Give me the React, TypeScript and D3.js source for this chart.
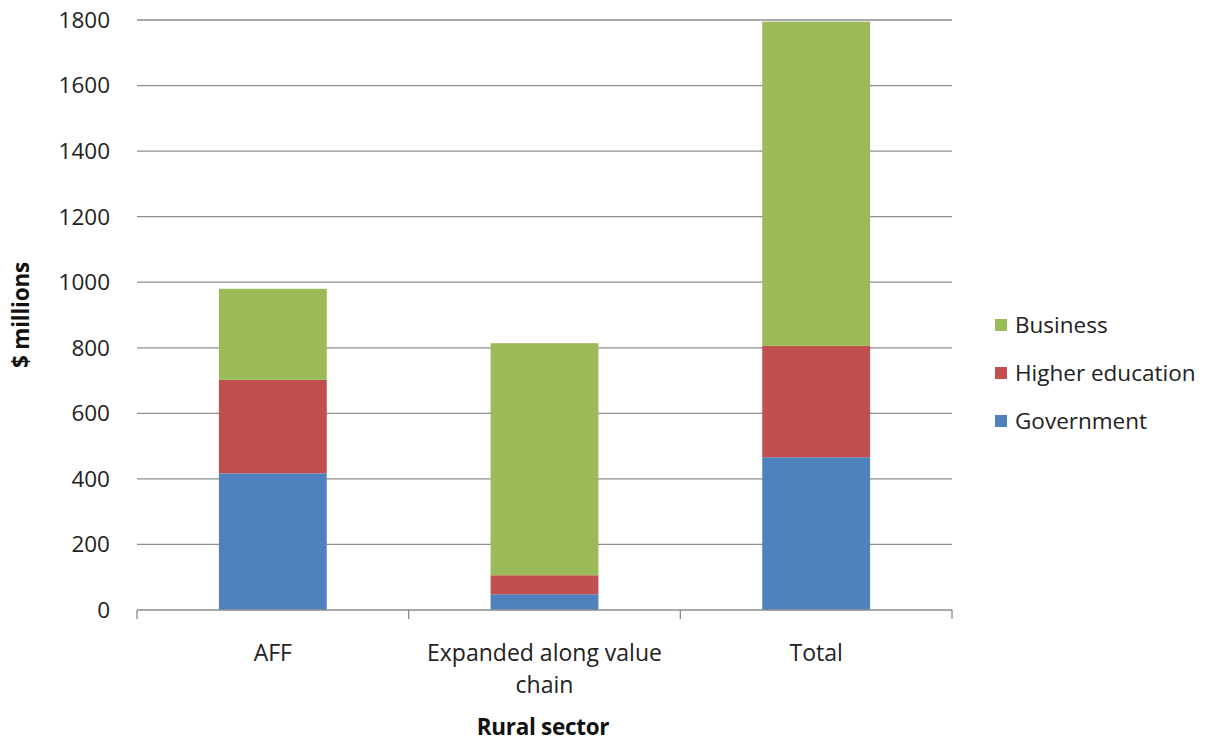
import React from "react";
import * as d3 from "d3";

// Rural R&D expenditure by sector and performer ($ millions)
const categories: string[][] = [["AFF"], ["Expanded along value", "chain"], ["Total"]];
const categoryKeys = ["AFF", "Expanded along value chain", "Total"];
const seriesNames = ["Government", "Higher education", "Business"];
const government = [417, 48, 466];
const higherEducation = [285, 58, 340];
const business = [278, 708, 989];
const yTicks = [0, 200, 400, 600, 800, 1000, 1200, 1400, 1600, 1800];
const seriesColors = ["#4F81BD", "#C0504D", "#9BBB59"];

const W = 1209;
const H = 742;
const plot = { left: 137, right: 952, top: 20, bottom: 610 };
const FONT = "'Open Sans', 'Liberation Sans', sans-serif";

export default function App() {
  const rows = categoryKeys.map((k, i) => ({
    key: k,
    Government: government[i],
    "Higher education": higherEducation[i],
    Business: business[i],
  }));
  const stacked = d3.stack<any>().keys(seriesNames)(rows);

  const x = d3.scaleBand<string>().domain(categoryKeys).range([plot.left, plot.right]).paddingInner(0).paddingOuter(0);
  const y = d3.scaleLinear().domain([0, 1800]).range([plot.bottom, plot.top]);
  const barW = x.bandwidth() * 0.397;

  const boundaries = [plot.left, ...categoryKeys.map((k) => (x(k) as number) + x.bandwidth())];

  const legendItems = [...seriesNames].reverse();

  return (
    <svg width={W} height={H} style={{ position: "absolute", left: 0, top: 0, background: "#fff" }}>
      {/* gridlines */}
      {yTicks.slice(1).map((t) => (
        <line key={t} x1={plot.left} x2={plot.right} y1={y(t)} y2={y(t)} stroke="#8c8c8c" strokeWidth={1.3} />
      ))}
      {/* y tick labels */}
      {yTicks.map((t) => (
        <text key={t} x={110} y={y(t)} dy="0.35em" textAnchor="end" fontFamily={FONT} fontSize={22.5} fill="#222">
          {t}
        </text>
      ))}
      {/* stacked bars */}
      {stacked.map((s, si) => (
        <g key={s.key} fill={seriesColors[si]}>
          {s.map((d, i) => {
            const cx = (x(categoryKeys[i]) as number) + x.bandwidth() / 2;
            return <rect key={i} x={cx - barW / 2} width={barW} y={y(d[1])} height={y(d[0]) - y(d[1])} />;
          })}
        </g>
      ))}
      {/* x axis */}
      <line x1={plot.left} x2={plot.right} y1={plot.bottom} y2={plot.bottom} stroke="#8c8c8c" strokeWidth={1.3} />
      {boundaries.map((b, i) => (
        <line key={i} x1={b} x2={b} y1={plot.bottom} y2={plot.bottom + 9} stroke="#8c8c8c" strokeWidth={1.3} />
      ))}
      {/* category labels */}
      {categories.map((lines, i) => {
        const cx = (x(categoryKeys[i]) as number) + x.bandwidth() / 2;
        return (
          <text key={i} textAnchor="middle" fontFamily={FONT} fontSize={23} fill="#222">
            {lines.map((ln, j) => (
              <tspan key={j} x={cx} y={661 + j * 32}>
                {ln}
              </tspan>
            ))}
          </text>
        );
      })}
      {/* axis titles */}
      <text x={543} y={735} textAnchor="middle" fontFamily={FONT} fontSize={22.5} fontWeight="bold" fill="#111" letterSpacing={-0.3}>
        Rural sector
      </text>
      <text
        transform={`translate(29, ${315}) rotate(-90)`}
        textAnchor="middle"
        fontFamily={FONT}
        fontSize={22.5}
        fontWeight="bold"
        fill="#111"
        letterSpacing={-0.2}
      >
        $ millions
      </text>
      {/* legend */}
      {legendItems.map((name, i) => {
        const cy = 325 + i * 48;
        const c = seriesColors[seriesNames.indexOf(name)];
        return (
          <g key={name}>
            <rect x={995} y={cy - 6} width={12} height={12} fill={c} />
            <text x={1015} y={cy} dy="0.35em" fontFamily={FONT} fontSize={22.5} fill="#222">
              {name}
            </text>
          </g>
        );
      })}
    </svg>
  );
}
